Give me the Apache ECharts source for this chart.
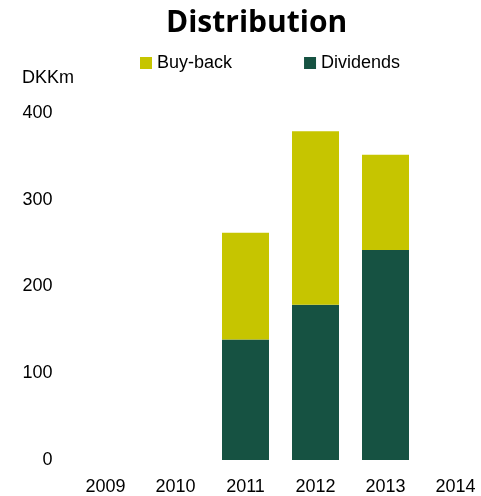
<!DOCTYPE html>
<html lang="en">
<head>
    <meta charset="UTF-8">
    <title>Distribution</title>
    <script type="text/javascript" src="https://cdn.jsdelivr.net/npm/echarts@6/dist/echarts.min.js"></script>
</head>
<body style="margin:0">
<div id="main" style="width:481px;height:496px;"></div>
<script>
    const years = ['2009', '2010', '2011', '2012', '2013', '2014'];
    const dividends = [null, null, 139, 179, 242, null];
    const buyBack = [null, null, 123, 200, 110, null];
    const yTicks = [0, 100, 200, 300, 400];

    const font = 'Liberation Sans';
    let myChart = echarts.init(document.getElementById('main'));

    let option = {
        animation: false,
        title: [
            {
                text: 'Distribution',
                left: 161,
                top: 3,
                textStyle: {fontFamily: 'Open Sans', fontSize: 30, fontWeight: 'bold', color: '#000'}
            },
            {
                text: 'DKKm',
                left: 17,
                top: 64,
                textStyle: {fontFamily: font, fontSize: 18, fontWeight: 'normal', color: '#000'}
            }
        ],
        legend: {
            data: ['Buy-back', 'Dividends'],
            left: 135,
            top: 49,
            itemWidth: 12,
            itemHeight: 12,
            itemGap: 72,
            icon: 'rect',
            textStyle: {fontFamily: font, fontSize: 18, color: '#000'}
        },
        grid: {left: 70.5, width: 420, top: 113, bottom: 36, outerBoundsMode: 'none'},
        xAxis: {
            type: 'category',
            data: years,
            axisLine: {show: false},
            axisTick: {show: false},
            axisLabel: {fontFamily: font, fontSize: 18, color: '#000', margin: 18}
        },
        yAxis: {
            type: 'value',
            min: yTicks[0],
            max: yTicks[yTicks.length - 1],
            interval: 100,
            splitLine: {show: false},
            axisLine: {show: false},
            axisTick: {show: false},
            axisLabel: {fontFamily: font, fontSize: 18, color: '#000', margin: 18}
        },
        series: [
            {
                name: 'Dividends',
                type: 'bar',
                stack: 'total',
                barWidth: 47,
                data: dividends,
                itemStyle: {color: '#165242'}
            },
            {
                name: 'Buy-back',
                type: 'bar',
                stack: 'total',
                barWidth: 47,
                data: buyBack,
                itemStyle: {color: '#C6C500'}
            }
        ]
    };
    myChart.setOption(option);
</script>
</body>
</html>
